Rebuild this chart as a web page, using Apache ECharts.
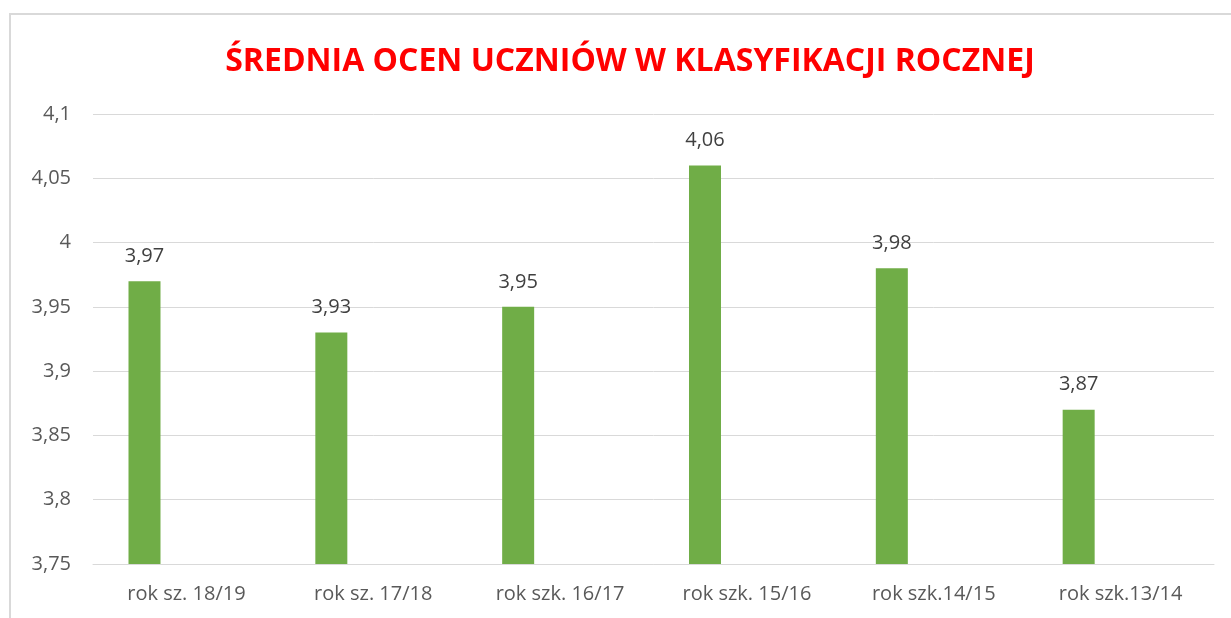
<!DOCTYPE html>
<html>
<head>
<meta charset="utf-8">
<script src="https://cdn.jsdelivr.net/npm/echarts@6/dist/echarts.min.js"></script>
<style>
  html, body { margin: 0; padding: 0; background: #fff; }
  #chart { width: 1231px; height: 618px; }
  /* ramka wykresu jak w Excelu */
  #frame {
    position: absolute; left: 9px; top: 13px; width: 1240px; height: 620px;
    border: 2px solid #d9d9d9; pointer-events: none;
  }
</style>
</head>
<body>
<div id="frame"></div>
<div id="chart"></div>
<script>
// dane
const categories = ['rok sz. 18/19', 'rok sz. 17/18', 'rok szk. 16/17', 'rok szk. 15/16', 'rok szk.14/15', 'rok szk.13/14']
const averages = [3.97, 3.93, 3.95, 4.06, 3.98, 3.87]
// pusta seria - tylko przesuwa słupki w lewo
const emptySeries = ['-', '-', '-', '-', '-', '-']

const fontFamily = 'Open Sans'

function toComma(v) {
  return String(+Number(v).toFixed(2)).replace('.', ',')
}

const chart = echarts.init(document.getElementById('chart'))

chart.setOption({
  animation: false,
  textStyle: { fontFamily },
  title: {
    text: 'ŚREDNIA OCEN UCZNIÓW W KLASYFIKACJI ROCZNEJ',
    left: 625,
    textAlign: 'center',
    top: 41,
    textStyle: {
      color: '#ff0000',
      fontSize: 32,
      fontWeight: 'bold',
      fontFamily,
    },
  },
  grid: {
    left: 93,
    right: 17,
    top: 114,
    bottom: 54,
  },
  xAxis: {
    type: 'category',
    data: categories,
    axisTick: { show: false },
    axisLine: { lineStyle: { color: '#d9d9d9', width: 1 } },
    axisLabel: {
      color: '#595959',
      fontSize: 20,
      margin: 20,
    },
  },
  yAxis: {
    type: 'value',
    min: 3.75,
    max: 4.1,
    interval: 0.05,
    axisLine: { show: false },
    axisTick: { show: false },
    splitLine: { lineStyle: { color: '#d9d9d9', width: 1 } },
    axisLabel: {
      color: '#595959',
      fontSize: 20,
      margin: 22,
      formatter: toComma,
    },
  },
  series: [
    {
      type: 'bar',
      data: averages,
      barWidth: 32,
      barGap: '162%',
      itemStyle: { color: '#70ad47' },
      label: {
        show: true,
        position: 'top',
        distance: 15,
        color: '#404040',
        fontSize: 20,
        formatter: p => toComma(p.value),
      },
    },
    {
      type: 'bar',
      data: emptySeries,
      barWidth: 32,
      itemStyle: { color: '#ed7d31' },
    },
  ],
})
</script>
</body>
</html>
